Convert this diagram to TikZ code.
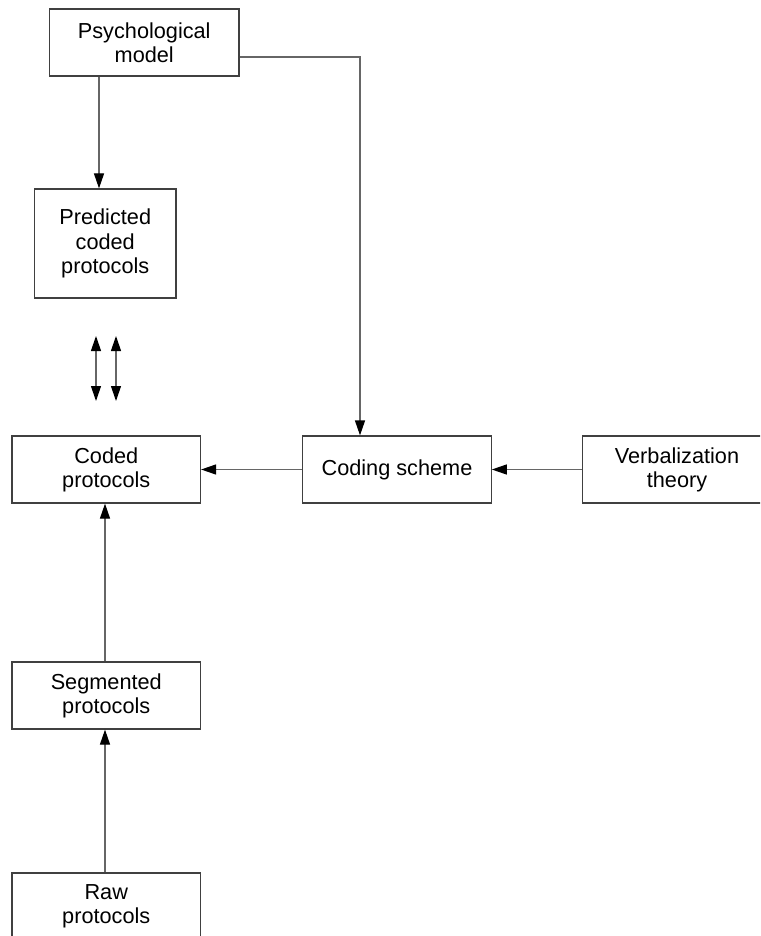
\documentclass[tikz,border=0pt]{standalone}
\usepackage{fontspec}
\setmainfont{Liberation Sans}
\usetikzlibrary{arrows.meta}
\tikzset{
  box/.style={draw=black!75, line width=1.2pt, minimum width=188.5pt, minimum height=67pt,
    inner sep=0pt, align=center, font=\fontsize{21.7}{24.2}\selectfont},
  link/.style={draw=black!60, line width=1.2pt},
  head/.tip={Triangle[length=15pt,width=10pt,color=black]},
  arr/.style={link, -head},
  biarr/.style={link, head-head}
}
\begin{document}
\begin{tikzpicture}[x=1pt,y=-1pt]
  \useasboundingbox (0,0) rectangle (760,936);
  \clip (0,0) rectangle (760,936);

  % boxes
  \node[box, minimum width=189.5pt] (psych) at (144.25,42.5) {Psychological\\model};
  \node[box, minimum width=141.5pt, minimum height=109pt] (pred) at (105.25,243.5) {Predicted\\coded\\protocols};
  \node[box] (coded) at (106.25,469.5) {Coded\\protocols};
  \node[box] (coding) at (397,469.5) {Coding scheme};
  \node[box] (verbal) at (677,469.5) {Verbalization\\theory};
  \node[box] (seg) at (106.25,695.5) {Segmented\\protocols};
  \node[box] (raw) at (106.25,906.5) {Raw\\protocols};

  % helper points for connector positions
  \coordinate (down) at (99,0);
  \coordinate (bend) at (360,57);
  \coordinate (up) at (105,0);
  \coordinate (d1top) at (96,336);
  \coordinate (d1bot) at (96,401);
  \coordinate (d2top) at (116,336);
  \coordinate (d2bot) at (116,401);

  % connectors
  \draw[arr] (psych.south -| down) -- (pred.north -| down);
  \draw[arr] (psych.east |- bend) -- (bend) -- (coding.north -| bend);
  \draw[arr] (coding.west) -- (coded.east);
  \draw[arr] (verbal.west) -- (coding.east);
  \draw[arr] (seg.north -| up) -- (coded.south -| up);
  \draw[arr] (raw.north -| up) -- (seg.south -| up);

  % comparison arrows
  \draw[biarr] (d1top) -- (d1bot);
  \draw[biarr] (d2top) -- (d2bot);
\end{tikzpicture}
\end{document}
